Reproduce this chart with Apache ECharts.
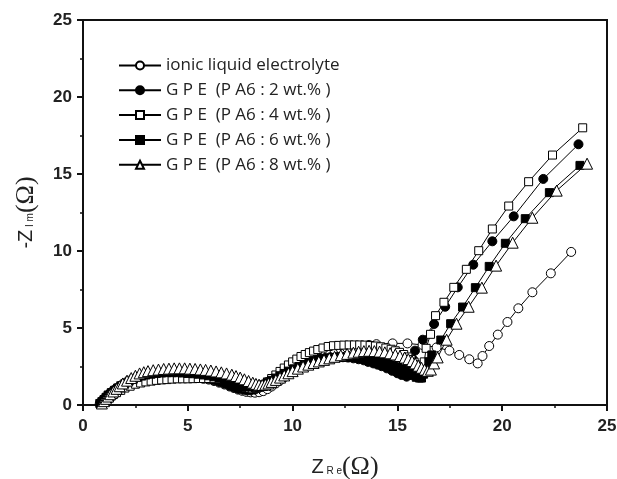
<!DOCTYPE html>
<html>
<head>
<meta charset="utf-8">
<script src="https://cdn.jsdelivr.net/npm/echarts@6/dist/echarts.min.js"></script>
<style>html,body{margin:0;padding:0;background:#fff}#c{width:617px;height:479px}</style>
</head>
<body>
<div id="c"></div>
<script>
// ---- data ----
var seriesNames = ['ionic liquid electrolyte','G P E  (P A6 : 2 wt.% )','G P E  (P A6 : 4 wt.% )','G P E  (P A6 : 6 wt.% )','G P E  (P A6 : 8 wt.% )'];
var xTicks = [0,5,10,15,20,25];
var yTicks = [0,5,10,15,20,25];

var ionicX = [0.8,0.9,1.0,1.15,1.3,1.45,1.6,1.8,2.0,2.25,2.5,2.75,3.0,3.25,3.5,3.75,4.0,4.25,4.5,4.75,5.0,5.25,5.5,5.75,6.0,6.25,6.5,6.75,7.0,7.2,7.4,7.6,7.8,8.0,8.2,8.4,8.6,8.8,9.0,9.2,9.4,9.6,9.8,10.0,10.2,10.4,10.6,10.8,11.0,11.25,11.5,11.75,12.0,12.3,12.6,12.95,13.3,13.65,14.0,14.77,15.48,16.2,16.87,17.48,17.95,18.43,18.83,19.06,19.38,19.79,20.25,20.77,21.44,22.32,23.29];
var ionicY = [0.1,0.25,0.4,0.6,0.8,0.95,1.1,1.25,1.4,1.5,1.6,1.68,1.75,1.78,1.8,1.83,1.85,1.85,1.85,1.83,1.8,1.78,1.75,1.7,1.65,1.56,1.45,1.33,1.2,1.1,1.0,0.92,0.85,0.82,0.8,0.83,0.9,1.03,1.2,1.4,1.6,1.8,2.0,2.2,2.4,2.6,2.8,2.95,3.1,3.23,3.35,3.45,3.55,3.63,3.7,3.78,3.85,3.9,3.95,4.0,4.0,3.9,3.74,3.53,3.25,2.97,2.7,3.18,3.83,4.57,5.39,6.28,7.32,8.55,9.94];

var pa2X = [0.85,0.95,1.05,1.15,1.3,1.45,1.6,1.8,2.0,2.2,2.4,2.6,2.8,3.0,3.25,3.5,3.75,4.0,4.25,4.5,4.75,5.0,5.25,5.5,5.75,6.0,6.25,6.5,6.75,7.0,7.2,7.4,7.6,7.8,8.0,8.2,8.4,8.6,8.8,9.0,9.2,9.4,9.6,9.8,10.05,10.3,10.55,10.8,11.05,11.3,11.55,11.8,12.1,12.4,12.65,12.9,13.15,13.4,13.6,13.85,14.05,14.25,14.5,14.75,15.0,15.2,15.44,15.6,15.75,15.84,16.21,16.75,17.28,17.88,18.62,19.53,20.55,21.96,23.64];
var pa2Y = [0.1,0.25,0.4,0.55,0.75,0.9,1.05,1.25,1.4,1.52,1.62,1.7,1.75,1.8,1.83,1.85,1.88,1.9,1.9,1.9,1.88,1.85,1.83,1.8,1.75,1.7,1.6,1.5,1.38,1.25,1.15,1.05,1.0,0.95,0.95,1.0,1.12,1.3,1.5,1.7,1.85,2.0,2.15,2.3,2.45,2.6,2.72,2.85,2.93,3.0,3.05,3.1,3.12,3.1,3.08,3.03,2.97,2.9,2.8,2.7,2.62,2.52,2.38,2.22,2.06,1.95,1.84,2.4,2.95,3.53,4.24,5.26,6.38,7.64,9.11,10.63,12.25,14.68,16.93];

var pa4X = [0.9,1.0,1.1,1.2,1.3,1.45,1.6,1.8,2.0,2.25,2.5,2.75,3.0,3.25,3.5,3.75,4.0,4.25,4.5,4.75,5.0,5.25,5.5,5.75,6.0,6.25,6.5,6.75,7.0,7.2,7.4,7.6,7.8,7.95,8.1,8.25,8.4,8.6,8.8,9.0,9.2,9.4,9.6,9.8,10.0,10.2,10.4,10.6,10.8,11.0,11.2,11.45,11.7,11.95,12.2,12.45,12.7,12.95,13.2,13.45,13.7,13.95,14.2,14.45,14.7,14.9,15.1,15.3,15.5,15.65,15.8,15.9,16.0,16.1,16.2,16.28,16.37,16.58,16.82,17.22,17.69,18.29,18.88,19.53,20.31,21.26,22.4,23.84];
var pa4Y = [0.1,0.2,0.3,0.42,0.55,0.68,0.8,0.95,1.1,1.22,1.35,1.43,1.5,1.55,1.6,1.63,1.65,1.68,1.7,1.7,1.7,1.71,1.72,1.72,1.72,1.71,1.7,1.66,1.6,1.5,1.4,1.28,1.15,1.1,1.05,1.08,1.15,1.3,1.5,1.72,1.95,2.18,2.4,2.6,2.8,2.98,3.15,3.28,3.4,3.5,3.6,3.7,3.8,3.85,3.87,3.89,3.9,3.9,3.9,3.89,3.86,3.83,3.78,3.7,3.62,3.52,3.42,3.28,3.12,2.95,2.78,2.6,2.45,2.3,2.15,2.8,3.68,4.59,5.8,6.67,7.64,8.81,10.02,11.43,12.92,14.5,16.23,18.0];

var pa6X = [0.8,0.9,1.0,1.1,1.2,1.35,1.5,1.65,1.8,2.0,2.2,2.4,2.6,2.8,3.0,3.25,3.5,3.75,4.0,4.25,4.5,4.75,5.0,5.25,5.5,5.75,6.0,6.25,6.5,6.75,7.0,7.2,7.4,7.6,7.8,8.0,8.2,8.4,8.6,8.8,9.0,9.2,9.4,9.6,9.8,10.05,10.3,10.55,10.8,11.05,11.3,11.55,11.8,12.05,12.3,12.55,12.8,13.05,13.3,13.55,13.8,14.05,14.3,14.55,14.8,15.0,15.2,15.4,15.6,15.75,15.9,16.05,16.15,16.25,16.35,16.5,16.64,17.07,17.54,18.11,18.72,19.38,20.15,21.1,22.25,23.71];
var pa6Y = [0.1,0.22,0.35,0.5,0.65,0.8,0.95,1.1,1.25,1.4,1.55,1.68,1.8,1.88,1.95,2.0,2.05,2.08,2.1,2.1,2.1,2.08,2.05,2.03,2.0,1.95,1.9,1.83,1.75,1.65,1.55,1.45,1.35,1.27,1.2,1.17,1.15,1.2,1.3,1.45,1.6,1.75,1.9,2.05,2.2,2.35,2.5,2.63,2.75,2.85,2.95,3.0,3.05,3.08,3.1,3.1,3.1,3.08,3.05,3.0,2.95,2.88,2.8,2.7,2.6,2.48,2.35,2.2,2.05,1.92,1.8,1.75,1.75,2.0,2.3,2.8,3.25,4.22,5.28,6.36,7.62,9.0,10.5,12.1,13.79,15.56];

var pa8X = [0.9,1.0,1.1,1.2,1.3,1.45,1.6,1.75,1.9,2.1,2.3,2.5,2.7,2.9,3.1,3.35,3.6,3.85,4.1,4.35,4.6,4.85,5.1,5.35,5.6,5.85,6.1,6.35,6.6,6.85,7.1,7.3,7.5,7.7,7.9,8.1,8.25,8.4,8.55,8.7,8.85,9.0,9.2,9.4,9.6,9.8,10.0,10.25,10.5,10.75,11.0,11.25,11.5,11.75,12.0,12.3,12.6,12.9,13.15,13.4,13.65,13.9,14.15,14.4,14.65,14.9,15.12,15.35,15.52,15.7,15.85,16.0,16.15,16.3,16.45,16.6,16.75,16.92,17.35,17.82,18.4,19.03,19.71,20.5,21.44,22.6,24.05];
var pa8Y = [0.1,0.25,0.4,0.55,0.7,0.88,1.05,1.22,1.4,1.58,1.75,1.9,2.05,2.13,2.2,2.26,2.3,2.34,2.36,2.38,2.38,2.38,2.36,2.34,2.31,2.28,2.24,2.18,2.12,2.05,1.97,1.88,1.78,1.67,1.56,1.45,1.37,1.32,1.3,1.33,1.4,1.5,1.63,1.78,1.92,2.06,2.2,2.36,2.5,2.62,2.73,2.83,2.93,3.03,3.13,3.23,3.32,3.4,3.46,3.5,3.52,3.5,3.47,3.42,3.36,3.28,3.18,3.08,2.98,2.85,2.7,2.55,2.42,2.3,2.22,2.3,2.7,3.09,4.24,5.28,6.38,7.62,9.05,10.54,12.16,13.92,15.67];

function pairs(xs, ys){ var out=[]; for (var i=0;i<xs.length;i++) out.push([xs[i], ys[i]]); return out; }

var chart = echarts.init(document.getElementById('c'), null, {renderer:'canvas'});
var tickFont = {fontFamily:'Liberation Sans', fontWeight:'bold', fontSize:17, color:'#222'};
var nameRich = {
  z:{fontFamily:'Liberation Sans', fontSize:20, color:'#222'},
  s:{fontFamily:'Liberation Sans', fontSize:10, color:'#222', padding:[8,0,0,0]},
  o:{fontFamily:'Liberation Serif', fontSize:26, color:'#222'}
};

function mk(name, xs, ys, symbol, filled, size){
  return {
    name: name, type:'line', data: pairs(xs, ys),
    symbol: symbol, symbolSize: size, showSymbol:true,
    lineStyle:{color:'#000', width:1},
    itemStyle:{color: filled ? '#000' : '#fff', borderColor:'#000', borderWidth:1},
    emphasis:{disabled:true}, animation:false, z:2
  };
}

chart.setOption({
  animation:false,
  grid:{left:83, right:10, top:20, bottom:74, show:true, borderColor:'#111', borderWidth:2,
        backgroundColor:'transparent', containLabel:false, outerBoundsMode:'none'},
  legend:{
    orient:'vertical', left:113, top:52, itemWidth:42, itemHeight:10, itemGap:7.8,
    textStyle:{fontFamily:'Open Sans', fontSize:17, color:'#222'},
    data: seriesNames, selectedMode:false
  },
  xAxis:{
    type:'value', min:xTicks[0], max:xTicks[xTicks.length-1], interval:5,
    axisLine:{show:true, onZero:false, lineStyle:{color:'#111', width:2}},
    axisTick:{show:true, inside:false, length:6, lineStyle:{color:'#111', width:2}},
    minorTick:{show:true, splitNumber:2, length:3, lineStyle:{color:'#111', width:1.5}},
    splitLine:{show:false},
    axisLabel:Object.assign({margin:13}, tickFont),
    name:'{z|Z}{s| R e}{o|(Ω)}', nameLocation:'middle', nameGap:49,
    nameTextStyle:{rich:nameRich}
  },
  yAxis:{
    type:'value', min:yTicks[0], max:yTicks[yTicks.length-1], interval:5,
    axisLine:{show:true, onZero:false, lineStyle:{color:'#111', width:2}},
    axisTick:{show:true, inside:false, length:6, lineStyle:{color:'#111', width:2}},
    minorTick:{show:true, splitNumber:2, length:3, lineStyle:{color:'#111', width:1.5}},
    splitLine:{show:false},
    axisLabel:Object.assign({margin:11}, tickFont),
    name:'{z|-Z}{s| I m}{o|(Ω)}', nameLocation:'middle', nameGap:44, nameRotate:90,
    nameTextStyle:{rich:nameRich}
  },
  series:[
    mk(seriesNames[0], ionicX, ionicY, 'circle', false, 9),
    mk(seriesNames[1], pa2X, pa2Y, 'circle', true, 9),
    mk(seriesNames[2], pa4X, pa4Y, 'rect', false, 8),
    mk(seriesNames[3], pa6X, pa6Y, 'rect', true, 8),
    mk(seriesNames[4], pa8X, pa8Y, 'triangle', false, 11)
  ]
});
</script>
</body>
</html>
